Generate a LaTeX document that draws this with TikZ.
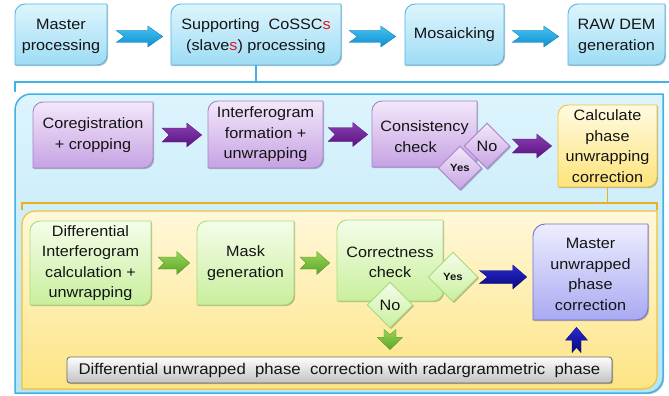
\documentclass[tikz,border=0pt]{standalone}
\usepackage{fontspec}
\setmainfont{Liberation Sans}[FakeStretch=1.08]
\usetikzlibrary{calc,shapes.geometric,shadows}
\definecolor{txtc}{HTML}{141414}
\definecolor{bluetop}{HTML}{DDF5FD}
\definecolor{bluebot}{HTML}{9EDCF5}
\definecolor{blueln}{HTML}{4DB8E6}
\definecolor{barrtop}{HTML}{45C2F1}
\definecolor{barrbot}{HTML}{0E90D2}
\definecolor{areatop}{HTML}{DDF4FC}
\definecolor{areabot}{HTML}{B5E5F7}
\definecolor{arealn}{HTML}{3FB3E6}
\definecolor{purtop}{HTML}{F3E8FA}
\definecolor{purbot}{HTML}{C6A2E3}
\definecolor{purln}{HTML}{A783CB}
\definecolor{parrtop}{HTML}{8A3FB2}
\definecolor{parrbot}{HTML}{58117F}
\definecolor{ylwtop}{HTML}{FFFBE2}
\definecolor{ylwbot}{HTML}{FDE37A}
\definecolor{ylwln}{HTML}{F1C23A}
\definecolor{goldln}{HTML}{EAB21F}
\definecolor{yareatop}{HTML}{FFF8DA}
\definecolor{yareabot}{HTML}{FDE484}
\definecolor{grntop}{HTML}{F5FDEA}
\definecolor{grnbot}{HTML}{C8EF9C}
\definecolor{grnln}{HTML}{A8DB7C}
\definecolor{garrtop}{HTML}{98D458}
\definecolor{garrbot}{HTML}{5CA528}
\definecolor{lavtop}{HTML}{EEEEFF}
\definecolor{lavbot}{HTML}{A9A9F2}
\definecolor{lavln}{HTML}{6F6FD8}
\definecolor{narrtop}{HTML}{2A2AD2}
\definecolor{narrbot}{HTML}{06067A}
\definecolor{greytop}{HTML}{FDFDFD}
\definecolor{greybot}{HTML}{C2C2C2}
\definecolor{greyln}{HTML}{6A6A6A}
\definecolor{redS}{HTML}{E8141C}

\tikzset{
  txt/.style={font=\fontsize{15}{20.5}\selectfont, text=txtc, align=center, inner sep=0pt},
  shd/.style={drop shadow={shadow xshift=1.2pt, shadow yshift=-1.2pt, opacity=0.25, fill=black}},
  bluebox/.style={shd, top color=bluetop, bottom color=bluebot, draw=blueln, line width=0.9pt},
  purbox/.style={shd, top color=purtop, bottom color=purbot, draw=purln, line width=0.9pt},
  ylwbox/.style={shd, top color=ylwtop, bottom color=ylwbot, draw=ylwln, line width=0.9pt},
  grnbox/.style={shd, top color=grntop, bottom color=grnbot, draw=grnln, line width=0.9pt},
  lavbox/.style={shd, top color=lavtop, bottom color=lavbot, draw=lavln, line width=0.9pt},
  bluearr/.style={top color=barrtop, bottom color=barrbot, draw=barrbot!80!black, line width=0.3pt},
  purarr/.style={top color=parrtop, bottom color=parrbot, draw=parrbot, line width=0.3pt},
  grnarr/.style={top color=garrtop, bottom color=garrbot, draw=garrbot!90!black, line width=0.3pt},
  navarr/.style={top color=narrtop, bottom color=narrbot, draw=narrbot, line width=0.3pt},
  pdia/.style={diamond, shd, top color=purtop, bottom color=purbot, draw=purln, line width=0.9pt, inner sep=0pt, text=txtc},
  gdia/.style={diamond, shd, top color=grntop, bottom color=grnbot, draw=grnln, line width=0.9pt, inner sep=0pt, text=txtc},
  notxt/.style={font=\fontsize{15}{18}\selectfont},
  yestxt/.style={font=\fontsize{10.5}{12}\selectfont\bfseries},
  bracketB/.style={draw=arealn, line width=1.8pt},
  bracketG/.style={draw=goldln, line width=1.8pt},
}

% #1 name, #2 x1, #3 y1, #4 x2, #5 y2, #6 radius, #7 style, #8 text
\newcommand{\rdbox}[8]{%
  \path[#7] (#2,#3+#6) .. controls (#2,#3+0.45*#6) and (#2+0.45*#6,#3) .. (#2+#6,#3)
     -- (#4,#3) -- (#4,#5-#6) .. controls (#4,#5-0.45*#6) and (#4-0.45*#6,#5) .. (#4-#6,#5)
     -- (#2,#5) -- cycle;
  \node[txt, minimum width={(#4-#2)*1pt}, minimum height={(#5-#3)*1pt}] (#1) at ({(#2+#4)/2},{(#3+#5)/2}) {#8};
}
% horizontal block arrow: #1 start, #2 end, #3 half body, #4 half head, #5 head length, #6 notch, #7 style
\newcommand{\blkH}[7]{%
  \path[#7] let \p1=#1, \p2=#2 in
    (\x1,{\y1-#3pt}) -- ({\x2-#5pt},{\y1-#3pt}) -- ({\x2-#5pt},{\y1-#4pt}) -- (\x2,\y1)
    -- ({\x2-#5pt},{\y1+#4pt}) -- ({\x2-#5pt},{\y1+#3pt}) -- (\x1,{\y1+#3pt}) -- ({\x1+#6pt},\y1) -- cycle;
}
% vertical block arrow: #7 = +1 up, -1 down (canvas), #8 style
\newcommand{\blkV}[8]{%
  \path[#8] let \p1=#1, \p2=#2 in
    ({\x1-#3pt},\y1) -- ({\x1-#3pt},{\y2-(#7)*#5pt}) -- ({\x1-#4pt},{\y2-(#7)*#5pt}) -- (\x1,\y2)
    -- ({\x1+#4pt},{\y2-(#7)*#5pt}) -- ({\x1+#3pt},{\y2-(#7)*#5pt}) -- ({\x1+#3pt},\y1) -- (\x1,{\y1+(#7)*#6pt}) -- cycle;
}

\begin{document}
\begin{tikzpicture}[x=1pt, y=-1pt]
\useasboundingbox[fill=white] (0,0) rectangle (669,396);

% ---------- top row ----------
\rdbox{mp}{15}{4}{107}{65}{10}{bluebox}{\rule{0pt}{14pt}Master\\processing}
\rdbox{sp}{171}{4}{341}{65}{10}{bluebox}{\rule{0pt}{14pt}Supporting\ \ CoSSC\textcolor{redS}{s}\\(slave\textcolor{redS}{s}) processing}
\rdbox{mo}{405}{4}{504}{65}{10}{bluebox}{Mosaicking}
\rdbox{rd}{568}{4}{665}{65}{10}{bluebox}{\rule{0pt}{14pt}RAW DEM\\generation}
\blkH{($(mp.east)+(9,2)$)}{($(sp.west)+(-8,2)$)}{6}{10.5}{15}{8}{bluearr}
\blkH{($(sp.east)+(8,2)$)}{($(mo.west)+(-9,2)$)}{6}{10.5}{15}{8}{bluearr}
\blkH{($(mo.east)+(8,2)$)}{($(rd.west)+(-9,2)$)}{6}{10.5}{15}{8}{bluearr}

% blue bracket
\coordinate (bl) at (15,92);
\coordinate (br) at (669,82);
\path[bracketB] (sp.south) -- (sp.south |- br);
\path[bracketB] (bl) -- (bl |- br) -- (br);

% ---------- outer blue area ----------
\rdbox{area}{15}{94}{663}{393}{16}{shd, top color=areatop, bottom color=areabot, draw=arealn, line width=1.5pt}{}

% purple row
\rdbox{co}{33}{102}{153}{168}{10}{purbox}{Coregistration\\+ cropping}
\rdbox{ifg}{208}{101}{323}{168}{10}{purbox}{Interferogram\\formation +\\unwrapping}
\rdbox{cc}{372}{101}{477}{167}{10}{purbox}{\rule{0pt}{16pt}Consistency\\check\hspace*{18pt}}
\node[pdia, notxt, minimum width=46pt, minimum height=46pt] (no1) at (487,146) {No};
\node[pdia, yestxt, minimum width=44pt, minimum height=44pt] (yes1) at (460,168) {\raisebox{-2pt}{Yes}};
\rdbox{calc}{558}{105}{657}{187}{10}{ylwbox}{Calculate\\phase\\unwrapping\\correction}
\blkH{($(co.east)+(9,0)$)}{($(ifg.west)+(-6,0)$)}{7}{12}{15}{7}{purarr}
\blkH{($(ifg.east)+(5,0)$)}{($(cc.west)+(-4,0)$)}{7}{12}{15}{7}{purarr}
\blkH{($(no1.east)+(2,0)$)}{($(calc.west)+(-6,0)$)}{7}{12}{15}{7}{purarr}

% golden bracket
\coordinate (gl) at (22,210);
\coordinate (gr) at (657,210);
\coordinate (gy) at (0,203);
\path[bracketG] (calc.south) -- (calc.south |- gy);
\path[bracketG] (gl) -- (gl |- gy) -- (gr |- gy) -- (gr);

% ---------- yellow area ----------
\rdbox{yarea}{22}{211}{657}{389}{13}{top color=yareatop, bottom color=yareabot, draw=ylwln, line width=1.2pt}{}

% green row
\rdbox{di}{30}{221}{151}{305}{10}{grnbox}{Differential\\Interferogram\\calculation +\\unwrapping}
\rdbox{mg}{197}{221}{294}{305}{10}{grnbox}{Mask\\generation}
\rdbox{ck}{337}{220}{443}{301}{10}{grnbox}{\rule{0pt}{14pt}Correctness\\check}
\node[gdia, yestxt, minimum width=50pt, minimum height=50pt] (yes2) at (453,277) {Yes};
\node[gdia, notxt, minimum width=46pt, minimum height=46pt] (no2) at (390,305) {No};
\rdbox{mu}{533}{224}{648}{320}{12}{lavbox}{\rule{0pt}{15pt}Master\\unwrapped\\phase\\correction}
\blkH{($(di.east)+(7,0)$)}{($(mg.west)+(-7,0)$)}{6}{11.5}{13}{6}{grnarr}
\blkH{($(mg.east)+(6,0)$)}{($(ck.west)+(-7,2)$)}{6}{11.5}{13}{6}{grnarr}
\blkH{($(yes2.east)+(1,0)$)}{($(mu.west)+(-6,0)$)}{6.5}{12}{14}{8}{navarr}

% grey bar
\node[txt, shd, top color=greytop, bottom color=greybot, draw=greyln, line width=0.8pt, rounded corners=3pt,
      minimum width=545pt, minimum height=26pt, font=\fontsize{15.5}{17}\selectfont] (bar) at (339.5,370)
      {Differential unwrapped\ \ phase\ \ correction with radargrammetric\ \ phase};

\blkV{($(no2.south)+(0,1)$)}{($(bar.north)+(0,-7)$)}{6}{12.5}{12}{5}{-1}{grnarr}
\blkV{($(mu.south |- bar.north)+(-14,-4)$)}{($(mu.south)+(-14,7)$)}{4.5}{11}{13}{5}{1}{navarr}
\end{tikzpicture}
\end{document}
